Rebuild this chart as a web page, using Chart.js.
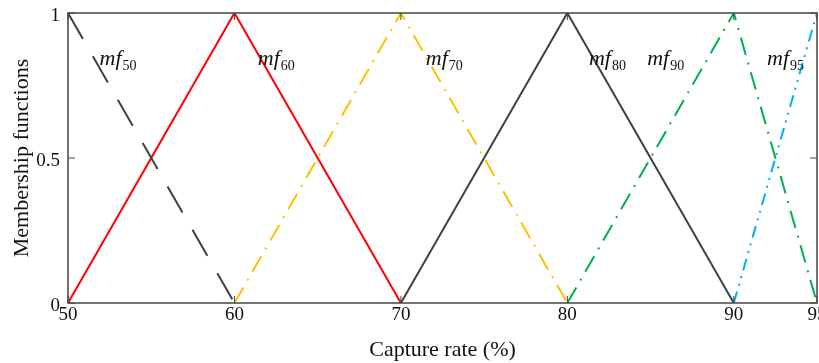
<!DOCTYPE html>
<html>
<head>
<meta charset="utf-8">
<script src="https://cdn.jsdelivr.net/npm/chart.js@4"></script>
<style>
  html, body { margin: 0; padding: 0; background: #fff; }
  #wrap { width: 819px; height: 363px; }
</style>
</head>
<body>
<div id="wrap"><canvas id="mfChart" width="819" height="363"></canvas></div>
<script>
// membership function data
const mfNames = ['50', '60', '70', '80', '90', '95'];
const mf50X = [50, 60], mf50Y = [1, 0];
const mf60X = [50, 60, 70], mf60Y = [0, 1, 0];
const mf70X = [60, 70, 80], mf70Y = [0, 1, 0];
const mf80X = [70, 80, 90], mf80Y = [0, 1, 0];
const mf90X = [80, 90, 95], mf90Y = [0, 1, 0];
const mf95X = [90, 95], mf95Y = [0, 1];

const xTicks = [50, 60, 70, 80, 90, 95];
const yTicks = [0, 0.5, 1];
const yTickLabels = ['0', '0.5', '1'];

// where the "mf" labels sit (data units)
const labelX = [51.9, 61.4, 71.5, 81.3, 84.8, 92.0];
const labelY = [0.82, 0.82, 0.82, 0.82, 0.82, 0.82];

const colors = ['#404040', '#ff0000', '#ffc000', '#404040', '#00b050', '#00b0f0'];
const dashes = [[30, 20], [], [18, 8, 2, 8], [], [18, 8, 2, 8], [12, 6, 2, 6, 2, 6]];

const serif = '"Liberation Serif", "DejaVu Serif", serif';

function toPoints(xs, ys) {
    return xs.map((x, i) => ({ x: x, y: ys[i] }));
}

const allX = [mf50X, mf60X, mf70X, mf80X, mf90X, mf95X];
const allY = [mf50Y, mf60Y, mf70Y, mf80Y, mf90Y, mf95Y];

const datasets = mfNames.map((name, i) => ({
    label: 'mf' + name,
    data: toPoints(allX[i], allY[i]),
    borderColor: colors[i],
    borderWidth: 2,
    borderDash: dashes[i],
    borderCapStyle: 'butt',
    pointRadius: 0,
    fill: false,
    tension: 0
}));

// box + inward ticks + mf labels
const framePlugin = {
    id: 'frame',
    afterDraw(chart) {
        const c = chart.ctx;
        const a = chart.chartArea;
        const xs = chart.scales.x, ys = chart.scales.y;
        c.save();
        c.strokeStyle = '#444';
        c.lineWidth = 1.5;
        c.strokeRect(a.left, a.top, a.right - a.left, a.bottom - a.top);
        c.lineWidth = 1;
        c.beginPath();
        xTicks.forEach(v => {
            const px = xs.getPixelForValue(v);
            c.moveTo(px, a.bottom); c.lineTo(px, a.bottom - 7);
            c.moveTo(px, a.top); c.lineTo(px, a.top + 7);
        });
        yTicks.forEach(v => {
            const py = ys.getPixelForValue(v);
            c.moveTo(a.left, py); c.lineTo(a.left + 7, py);
            c.moveTo(a.right, py); c.lineTo(a.right - 7, py);
        });
        c.stroke();

        c.fillStyle = '#111';
        c.textBaseline = 'alphabetic';
        c.textAlign = 'left';
        mfNames.forEach((name, i) => {
            const px = xs.getPixelForValue(labelX[i]);
            const py = ys.getPixelForValue(labelY[i]);
            c.font = 'italic 22px ' + serif;
            c.fillText('mf', px, py);
            const w = c.measureText('mf').width;
            c.font = '14px ' + serif;
            c.fillText(name, px + w + 1, py + 5);
        });
        c.restore();
    }
};

new Chart(document.getElementById('mfChart').getContext('2d'), {
    type: 'line',
    data: { datasets: datasets },
    options: {
        responsive: false,
        animation: false,
        layout: { padding: { top: 13, right: 2, left: 0, bottom: 0 } },
        plugins: { legend: { display: false }, tooltip: { enabled: false } },
        scales: {
            x: {
                type: 'linear',
                min: 50, max: 95,
                grid: { display: false, drawTicks: false },
                border: { display: false },
                afterBuildTicks: s => { s.ticks = xTicks.map(v => ({ value: v })); },
                ticks: {
                    color: '#111',
                    font: { family: serif, size: 19 },
                    padding: 1,
                    maxRotation: 0,
                    autoSkip: false,
                    callback: v => String(v)
                },
                title: {
                    display: true,
                    text: 'Capture rate (%)',
                    color: '#111',
                    font: { family: serif, size: 22 },
                    padding: { top: 6, bottom: 0 }
                },
                afterFit: s => { s.height = 60; s.paddingLeft = 0; s.paddingRight = 0; }
            },
            y: {
                type: 'linear',
                min: 0, max: 1,
                grid: { display: false, drawTicks: false },
                border: { display: false },
                afterBuildTicks: s => { s.ticks = yTicks.map(v => ({ value: v })); },
                ticks: {
                    color: '#111',
                    font: { family: serif, size: 19 },
                    padding: 8,
                    labelOffset: 3,
                    autoSkip: false,
                    callback: v => yTickLabels[yTicks.indexOf(v)]
                },
                title: {
                    display: true,
                    text: 'Membership functions',
                    color: '#111',
                    font: { family: serif, size: 22 },
                    padding: { top: 9, bottom: 0 }
                },
                afterFit: s => { s.width = 68; s.paddingTop = 0; s.paddingBottom = 0; }
            }
        }
    },
    plugins: [framePlugin]
});
</script>
</body>
</html>
